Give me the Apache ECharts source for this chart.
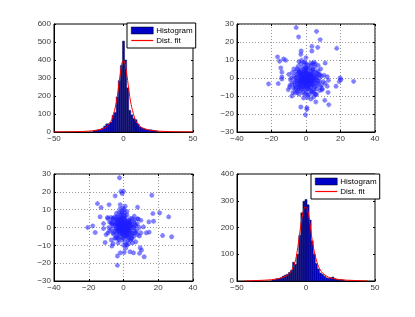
<!DOCTYPE html>
<html><head><meta charset="utf-8">
<script src="https://cdn.jsdelivr.net/npm/echarts@6/dist/echarts.min.js"></script>
<style>html,body{margin:0;padding:0;background:#fff}#c{width:415px;height:317px}</style>
</head><body><div id="c"></div>
<script>
// ---- data ----
const binWidth = 1.5;
const tlBinCenters = [-21,-19.5,-18,-16.5,-15,-13.5,-12,-10.5,-9,-7.5,-6,-4.5,-3,-1.5,0,1.5,3,4.5,6,7.5,9,10.5,12,13.5,15,16.5,18,19.5,21,22.5,24];
const tlCounts     = [8,10,12,15,22,33,45,46,55,92,108,195,285,370,505,400,245,120,95,75,68,45,28,22,18,15,12,12,10,8,5];
const tlFitX = [-50,-40,-30,-25,-20,-16,-13,-11,-9,-8,-7,-6,-5,-4,-3,-2,-1,0,1,2,3,4,5,6,7,8,9,11,13,16,20,25,30,40,50];
const tlFitY = [0,1,3,5,9,15,25,38,60,78,105,135,172,225,285,340,385,398,385,340,285,225,172,135,105,78,60,38,25,15,9,5,3,1,0];

const brBinCenters = [-24,-22.5,-21,-19.5,-18,-16.5,-15,-13.5,-12,-10.5,-9,-7.5,-6,-4.5,-3,-1.5,0,1.5,3,4.5,6,7.5,9,10.5,12,13.5,15,16.5,18,19.5,21,22.5,24,25.5,27];
const brCounts     = [3,5,8,9,12,18,22,25,32,40,70,62,100,170,255,298,305,285,228,150,100,65,45,30,25,18,12,10,12,15,8,6,4,5,4];
const brFitX = [-45,-40,-30,-25,-20,-16,-13,-11,-9,-8,-7,-6,-5,-4,-3,-2,-1,0,1,2,3,4,5,6,7,8,9,11,13,16,20,25,30,40,45];
const brFitY = [0,1,3,5,9,15,24,35,55,70,92,125,160,200,235,260,275,276,268,245,210,170,135,110,88,70,55,36,25,15,9,5,3,1,0];

const trPoints = [
[-5.7,28],[6.1,25.9],[-4.3,22.8],[8.2,21.3],[17.8,16.5],[3.4,17.6],[3.4,15],[6.8,17],[-2.8,15],[-3,13.1],
[-16.5,11.7],[-13,10.6],[-11.7,9.8],[-15.3,9.3],[-14.6,5.6],[-14,3.3],[-14,0.6],[-14,-0.6],[-21.7,-3.3],[-16.1,-3.1],
[-10.3,-6.5],[-9.2,-4],[-8.2,-10],[-6.3,-8.3],[0,11.3],[-1,8.3],[-4.1,9.1],[4.7,8.7],[11.1,8.3],[12.3,0.7],
[13,-1.3],[12.3,-4.6],[17.4,-4.6],[19.7,0],[20.3,-0.9],[19.3,-2],[27.6,-1.9],[9.2,-6.5],[12.8,-8],[10.9,-12.4],
[13.2,-14.8],[5.7,-9.3],[5.7,-13.3],[2.8,-11.7],[0.9,-10.9],[-1.4,-11.1],[-3,-16.1],[0.5,-16.5],[0.5,-17.4],[-0.3,-20.4],
[3.4,-7.8],[4.3,-10.6],
[-1,0],[0,1],[1,-1],[-2,-1],[2,0],[0,-2],[-1,2],[1,2],[-3,0],[3,-1],[0,3],[-2,-3],[2,-3],[-3,2],[3,2],[-4,-1],[4,0],
[-1,-4],[1,-4],[0,-1],[-0.5,0.5],[0.5,-0.5],[-1.5,1],[1.5,1],[-2,0.5],[2.5,-1.5],[-2.5,-2],[3.5,1],[-3.5,-2.5],[4.5,-2],
[-4.5,1.5],[5,1],[-5,-3],[5.5,-3],[-5.5,2],[6,-1],[-6,0],[6.5,2.5],[-6.5,-4],[7,-3],[-7,1],[7.5,0],[-1,5],[1,5],[0,6],
[-2,6],[2,5.5],[-3,4.5],[3,4],[4,5],[-4,4],[5,6],[-5,5],[-1,-6],[1,-6],[0,-7],[-2,-5],[2,-6],[3,-5],[-3,-6],[4,-4],
[-4,-5],[5,-5],[-5,-7],[6,-6],[-6,-6],[7,4],[8,2],[8,-2],[9,-4],[9,1],[-8,-3],[-8,3],[-7,5],[7,7],[4,8],[-3,8],[-1,9],
[1,7],[3,7],[0,4.5],[-0.5,-3],[0.5,3],[1.5,-2.5],[-1.5,-1.5],[2.2,1.5],[-2.2,2.5],[3.2,-2.2],[-3.2,-1],[0.8,0.2],
[-0.8,-0.8],[1.8,-0.2],[-1.8,0],[2.8,0.8],[-2.8,1.2],[0,-3.5],[1,-2],[-1,-2.5],[2,2.8],[-2,3.5],[4,2],[-4,2.8],[4.5,3.5],
[-4.8,-3.8],[5.2,-1],[-5.2,0.2],[6,1],[-6,-1.5],[3.8,-3],[-3.8,3.2],[10,-2],[10.5,1.5],[11,-3],[9.5,-6],[-9,-1],[-10,2],
[-9.5,-5],[8.5,5],[-7.5,-8],[6,-9],[-4,-9],[2,-9],[-2,-8],[0,-8.5],[4,-7.5],[8,-7],
[-0.3,-0.2],[0.3,0.4],[-1.2,0.6],[1.2,-0.6],[-0.6,-1.4],[0.6,1.4],[-2.4,-0.4],[2.4,0.4],[-1.6,-2.2],[1.6,2.2],[-3,-1.8],
[3,1.8],[-0.2,-2.6],[0.2,2.6],[-3.6,0.8],[3.6,-0.8],[-2.2,-4.2],[2.2,-4.2],[-4,-2.2],[4,-1.2],[-1.4,3.2],[1.4,-3.4],
[-5.2,-1.6],[5.6,0.2],[-4.4,-6],[4.6,-6.4],[-2.8,-6.8],[2.6,-7],[0.4,-5],[-0.4,5.6],[-6.8,-2.4],[6.8,-1.8],[-5.8,3.6],
[5.8,3.2],[-3.4,-3.8],[3.4,-3.6],[-1.2,-5.2],[1.2,-5],[-2,1.6],[2,-1.8],[0,-0.6],[-0.8,0.2],[0.8,-1.2],[-1.4,-0.8],
[1.4,0.6],[-2.6,2],[2.6,-2.6],[-0.4,3.8],[0.4,-4.2],[-3.8,-4.6],[3.8,4.4],[-6.2,-5],[6.2,-4.2],[-7.2,-5.6],[7.6,1.8],
[-8.4,0],[8.2,-4.8],[4.8,-8.6],[-5,-8],[1,-9.6],[-0.8,-9],[2.8,8.2],[-4.6,6.4],[5.4,7.8],[-2.6,9.8],[0.2,8]
];

const blPoints = [
[-2.3,27.9],[-1.5,20.3],[0,20.3],[-0.8,19],[-4.8,17.7],[16.3,18.1],[-15,13.4],[-12.9,11.2],[-8.3,12.8],[-1.9,12.8],
[1,11.9],[8.1,11.4],[20.8,8.2],[26,6],[16.9,7.8],[17.3,3.5],[14.6,3.2],[-9.2,5.6],[-13.5,6],[-17.7,0.9],
[-20.6,0],[-16.3,-2.8],[-11.5,2.2],[-11.5,-0.6],[-10.6,-8.4],[-6.7,-10.4],[-3.5,-16],[-3.5,-21.2],[-1.9,-14.2],[0.4,-14],
[1.2,-11.7],[3.8,-13.6],[5.8,-14.2],[9.2,-14.5],[9.6,-11.4],[10.4,-12.7],[11.9,-16.4],[9.2,-4.8],[13.1,-3],[14.8,-2.6],
[11.5,0.4],[22.5,-4.5],[27.7,-5.2],[8.3,4.8],[6.2,6.3],
[0,0],[1,1],[-1,-1],[1,-1],[-1,1],[2,0],[-2,0],[0,2],[0,-2],[2,2],[-2,-2],[2,-2],[-2,2],[3,1],[-3,-1],[3,-1],[-3,1],
[1,3],[-1,-3],[1,-3],[-1,3],[0,4],[0,-4],[4,0],[-4,0],[0.5,0.5],[-0.5,-0.5],[0.5,-1.5],[-0.5,1.5],[1.5,0.5],[-1.5,-0.5],
[1.5,-2.5],[-1.5,2.5],[2.5,1.5],[-2.5,-1.5],[2.5,-3.5],[-2.5,3.5],[3.5,2.5],[-3.5,-2.5],[3.5,-2],[-3.5,2],[4.5,1],[-4.5,-1],
[4.5,-3],[-4.5,3],[5,2],[-5,-2],[5,-4],[-5,4],[6,0],[-6,1],[6,3],[-6,-3],[6,-5],[-6,5],[7,1],[-7,-1],[7,-3],[-7,3],
[-1,5],[1,5],[-2,6],[0,7],[-1,8],[1,6.5],[-3,6],[2,7],[-2,-5],[2,-5],[0,-6],[-1,-7],[1,-8],[3,-6],[-3,-6],[4,-7],[-4,-5],
[5,-6],[-5,-6],[4,5],[-4,6],[5,5],[-5,6],[3,4],[-3,4],[8,2],[-8,-2],[8,-4],[-8,3],[9,0],[-9,-3],[-7,-7],[7,-8],[-6,-9],
[2,-10],[0,-10],[-1,9],[0.3,10],[-0.3,11],[2,9],[-4,8],[-2.5,8.5],[1.2,-4.5],[-1.2,4.3],[2.2,3.2],[-2.2,-3.8],[3.2,-4.5],
[-3.2,0.5],[0.8,-2.8],[-0.8,2.8],[1.8,1.2],[-1.8,-1.2],[2.8,-1.2],[-2.8,1.2],[0,1],[0,-1],[1,0],[-1,0],[0.5,2.5],[-0.5,-2.5],
[3.8,3],[-3.8,-3.5],[4.2,-1.8],[-4.2,1.8],[6.5,-2],[-6.5,2],[10,-3],[-10,-4],[10,4],[-9,5],
[-0.3,0.3],[0.3,-0.3],[-1.2,-0.6],[1.2,0.6],[-0.6,1.4],[0.6,-1.4],[-2.4,0.4],[2.4,-0.4],[-1.6,2.2],[1.6,-2.2],[-3,1.8],
[3,-1.8],[-0.2,2.6],[0.2,-2.6],[-3.6,-0.8],[3.6,0.8],[-2.2,4.2],[2.2,-4.2],[-4,2.2],[4,1.2],[-1.4,-3.2],[1.4,3.4],
[-5.2,1.6],[5.6,-0.2],[-4.4,-6],[4.6,-6.4],[-2.8,-6.8],[2.6,-7],[0.4,5],[-0.4,-5.6],[-6.8,2.4],[6.8,1.8],[-5.8,-3.6],
[5.8,-3.2],[-3.4,3.8],[3.4,3.6],[-1.2,5.2],[1.2,-5],[-2,-1.6],[2,1.8],[0,0.6],[-0.8,-0.2],[0.8,1.2],[-1.4,0.8],
[1.4,-0.6],[-2.6,-2],[2.6,2.6],[-0.4,-3.8],[0.4,4.2],[-3.8,4.6],[3.8,-4.4],[-6.2,5],[6.2,4.2],[-7.2,5.6],[7.6,-1.8],
[-8.4,0],[8.2,4.8],[-1.5,7.2],[-0.5,6],[0.6,8.6],[-2,10.4],[1.6,-9.6],[-3,-8.6],[3,-9],[5.2,-8.6]
];

const histXTicks = {min:-50, max:50, interval:50};
const tlYTicks = {min:0, max:600, interval:100};
const brYTicks = {min:0, max:400, interval:100};
const scXTicks = {min:-40, max:40, interval:20};
const scYTicks = {min:-30, max:30, interval:10};

// ---- build ----
const pair = (xs, ys) => xs.map((x, i) => [x, ys[i]]);
const font = 'Liberation Sans, Arial, sans-serif';
const labelColor = '#3a3a3a';
const fmt = v => String(v).replace('-', '\u2212');

const grids = [
  {left:54, top:24, width:139, height:108},
  {left:237, top:24, width:138, height:108},
  {left:54, top:174, width:139, height:107},
  {left:237, top:174, width:138, height:107}
].map(g => Object.assign(g, {show:true, borderColor:'#000', borderWidth:1, backgroundColor:'#fff'}));

function mainAxis(grid, ticks, pos, gridLines) {
  return Object.assign({
    type:'value', gridIndex:grid, position:pos,
    axisLine:{show:true, onZero:false, lineStyle:{color:'#000', width:1}},
    axisTick:{show:true, inside:true, length:2, lineStyle:{color:'#000'}},
    axisLabel:{show:true, fontSize:8, fontFamily:font, color:labelColor, margin:3, formatter:fmt},
    splitLine:{show:gridLines, lineStyle:{color:'#9a9a9a', type:[1,2], width:1}}
  }, ticks);
}
function boxAxis(grid, ticks, pos) {
  return Object.assign({
    type:'value', gridIndex:grid, position:pos,
    axisLine:{show:false, onZero:false},
    axisTick:{show:true, inside:true, length:2, lineStyle:{color:'#000'}},
    axisLabel:{show:false}, splitLine:{show:false}
  }, ticks);
}

const xAxis = [
  mainAxis(0, histXTicks, 'bottom', false),
  mainAxis(1, scXTicks, 'bottom', true),
  mainAxis(2, scXTicks, 'bottom', true),
  mainAxis(3, histXTicks, 'bottom', false),
  boxAxis(0, histXTicks, 'top'), boxAxis(1, scXTicks, 'top'),
  boxAxis(2, scXTicks, 'top'), boxAxis(3, histXTicks, 'top')
];
const yAxis = [
  mainAxis(0, tlYTicks, 'left', false),
  mainAxis(1, scYTicks, 'left', true),
  mainAxis(2, scYTicks, 'left', true),
  mainAxis(3, brYTicks, 'left', false),
  boxAxis(0, tlYTicks, 'right'), boxAxis(1, scYTicks, 'right'),
  boxAxis(2, scYTicks, 'right'), boxAxis(3, brYTicks, 'right')
];

const barFill = '#0000c8';
function histSeries(idx, centers, counts) {
  return {
    name:'Histogram', type:'custom', xAxisIndex:idx, yAxisIndex:idx,
    itemStyle:{color:barFill},
    data: pair(centers, counts),
    renderItem: (params, api) => {
      const x = api.value(0), y = api.value(1);
      const p0 = api.coord([x - binWidth/2, y]);
      const p1 = api.coord([x + binWidth/2, 0]);
      return {type:'rect', shape:{x:p0[0], y:p0[1], width:p1[0]-p0[0], height:p1[1]-p0[1]},
        style:{fill:barFill, stroke:'#1a1a40', lineWidth:0.5}};
    },
    z:2
  };
}
function fitSeries(idx, xs, ys) {
  return {name:'Dist. fit', type:'line', xAxisIndex:idx, yAxisIndex:idx, data:pair(xs, ys),
    smooth:0.3, symbol:'none', showSymbol:false, lineStyle:{color:'#ff0000', width:1}, itemStyle:{color:'#ff0000'}, z:3};
}
const star = 'path://M5,0V10M0,5H10M1.6,1.6L8.4,8.4M1.6,8.4L8.4,1.6';
function scatterSeries(idx, pts) {
  return {name:'points'+idx, type:'scatter', xAxisIndex:idx, yAxisIndex:idx, data:pts,
    symbol:star, symbolSize:5,
    itemStyle:{color:'rgba(0,0,0,0)', borderColor:'rgba(30,30,255,0.7)', borderWidth:1.3}};
}

const lineIcon = 'path://M0,0H22V1.2H0Z';
function legendAt(left, top) {
  return {
    left:left, top:top, orient:'vertical', backgroundColor:'#fff', borderColor:'#000', borderWidth:1,
    padding:[3,3,3,4], itemGap:1, itemWidth:22, itemHeight:7, selectedMode:false,
    textStyle:{fontSize:8, fontFamily:font, color:'#000', lineHeight:9, padding:[0,0,0,-2]},
    data:[
      {name:'Histogram', icon:'rect', itemStyle:{color:barFill, borderColor:'#000', borderWidth:0.5}},
      {name:'Dist. fit', icon:lineIcon, itemStyle:{color:'#ff0000', borderWidth:0}}
    ]
  };
}

const chart = echarts.init(document.getElementById('c'), null, {renderer:'canvas'});
chart.setOption({
  animation:false,
  backgroundColor:'#fff',
  grid:grids, xAxis:xAxis, yAxis:yAxis,
  legend:[legendAt(127, 23), legendAt(311, 174)],
  series:[
    histSeries(0, tlBinCenters, tlCounts), fitSeries(0, tlFitX, tlFitY),
    scatterSeries(1, trPoints), scatterSeries(2, blPoints),
    histSeries(3, brBinCenters, brCounts), fitSeries(3, brFitX, brFitY)
  ]
});
</script></body></html>
